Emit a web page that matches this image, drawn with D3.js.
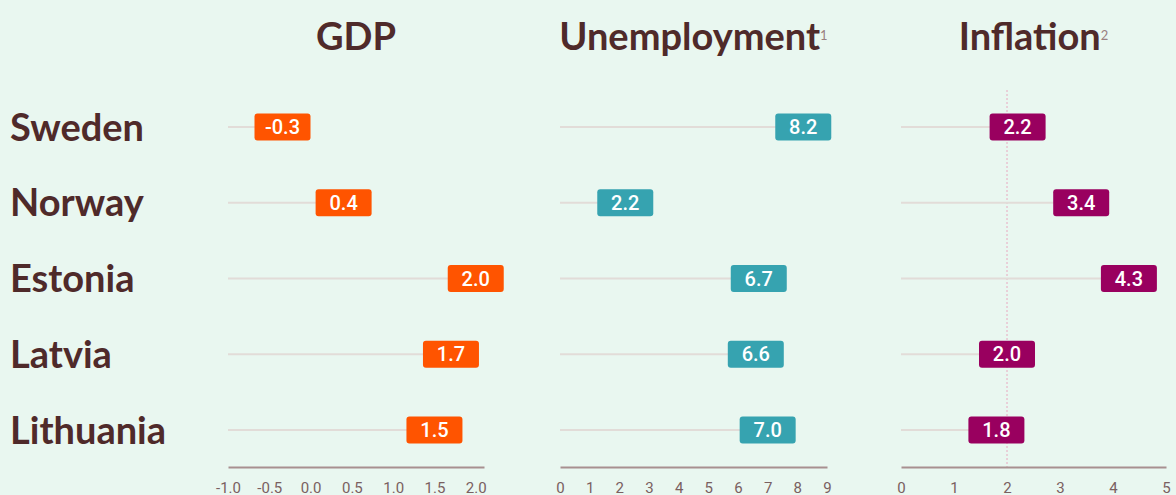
<!DOCTYPE html>
<html>
<head>
<meta charset="utf-8">
<script src="https://cdn.jsdelivr.net/npm/d3@7"></script>
<style>
  body { margin: 0; background: #e9f7f0; }
  svg { display: block; }
</style>
</head>
<body>
<script>
// Data
const countries = ["Sweden", "Norway", "Estonia", "Latvia", "Lithuania"];
const gdp = [-0.34, 0.4, 2.0, 1.7, 1.5];
const unemployment = [8.2, 2.2, 6.7, 6.6, 7.0];
const inflation = [2.2, 3.4, 4.3, 2.0, 1.8];

const gdpTicks = [-1.0, -0.5, 0.0, 0.5, 1.0, 1.5, 2.0];
const unempTicks = [0, 1, 2, 3, 4, 5, 6, 7, 8, 9];
const inflTicks = [0, 1, 2, 3, 4, 5];

let width = 1176,
    height = 495;

let svg = d3.select('body')
    .append('svg')
    .attr('width', width)
    .attr('height', height)
    .style('background', '#e9f7f0');

const textColor = '#4f2a2a';

// Rows
const y = d3.scalePoint()
    .domain(countries)
    .range([127, 430]);

// Country labels
svg.selectAll('.country')
    .data(countries)
    .enter().append('text')
    .attr('class', 'country')
    .attr('x', 10)
    .attr('y', d => y(d))
    .attr('dy', '0.36em')
    .style('font-family', 'Lato, sans-serif')
    .style('font-weight', 700)
    .style('font-size', '38px')
    .style('fill', textColor)
    .text(d => d);

const panels = [
    { title: 'GDP', note: '', values: gdp, ticks: gdpTicks, digits: 1, domain: [-1, 2.1], range: [228, 484], color: '#ff5400', ref: null },
    { title: 'Unemployment', note: '1', values: unemployment, ticks: unempTicks, digits: 0, domain: [0, 9], range: [560, 827], color: '#36a3b0', ref: null },
    { title: 'Inflation', note: '2', values: inflation, ticks: inflTicks, digits: 0, domain: [0, 5], range: [901, 1166], color: '#99005f', ref: 2 }
];

const axisY = 467;

panels.forEach(p => {
    const x = d3.scaleLinear().domain(p.domain).range(p.range);
    const g = svg.append('g');

    // Title
    const mid = (p.range[0] + p.range[1]) / 2;
    const title = g.append('text')
        .attr('x', mid)
        .attr('y', 50)
        .attr('text-anchor', 'middle')
        .style('font-family', 'Lato, sans-serif')
        .style('font-weight', 700)
        .style('font-size', '38px')
        .style('fill', textColor)
        .text(p.title);
    if (p.note) {
        title.append('tspan')
            .attr('dy', -10)
            .style('font-size', '13px')
            .style('font-weight', 400)
            .style('fill', '#9a8080')
            .text(p.note);
    }

    // Reference line
    if (p.ref !== null) {
        g.append('line')
            .attr('x1', x(p.ref))
            .attr('x2', x(p.ref))
            .attr('y1', 90)
            .attr('y2', axisY)
            .attr('stroke', '#e8a8c0')
            .attr('stroke-width', 1)
            .attr('stroke-dasharray', '2,2');
    }

    // Axis
    const axis = g.append('g')
        .attr('transform', `translate(0,${axisY})`)
        .call(d3.axisBottom(x).tickValues(p.ticks).tickSize(0).tickPadding(15)
            .tickFormat(d => d.toFixed(p.digits)));
    axis.select('.domain')
        .attr('stroke', '#a89090')
        .attr('stroke-width', 2);
    axis.selectAll('text')
        .style('font-family', 'Roboto, sans-serif')
        .style('font-size', '15px')
        .style('fill', '#7a6060');

    // Stems
    g.selectAll('.stem')
        .data(p.values)
        .enter().append('line')
        .attr('x1', p.range[0])
        .attr('x2', d => x(d))
        .attr('y1', (d, i) => y(countries[i]))
        .attr('y2', (d, i) => y(countries[i]))
        .attr('stroke', '#e2dcd8')
        .attr('stroke-width', 2);

    // Label boxes
    const boxW = 56, boxH = 27;
    g.selectAll('.box')
        .data(p.values)
        .enter().append('rect')
        .attr('x', d => x(d) - boxW / 2)
        .attr('y', (d, i) => y(countries[i]) - boxH / 2)
        .attr('width', boxW)
        .attr('height', boxH)
        .attr('rx', 3)
        .attr('fill', p.color);

    g.selectAll('.val')
        .data(p.values)
        .enter().append('text')
        .attr('x', d => x(d))
        .attr('y', (d, i) => y(countries[i]))
        .attr('dy', '0.36em')
        .attr('text-anchor', 'middle')
        .style('font-family', 'Roboto, sans-serif')
        .style('font-weight', 500)
        .style('font-size', '20px')
        .style('fill', 'white')
        .text(d => d.toFixed(1));
});
</script>
</body>
</html>
